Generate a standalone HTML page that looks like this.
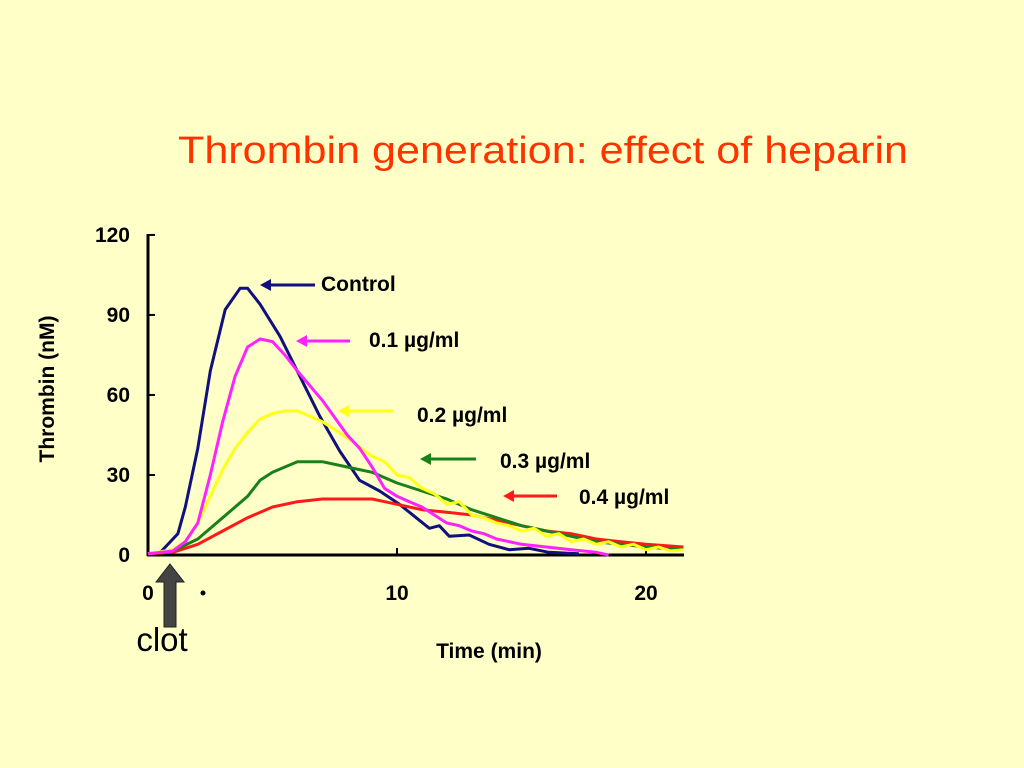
<!DOCTYPE html>
<html><head><meta charset="utf-8"><style>
body{margin:0;background:#ffffc8;}
svg{display:block;font-family:"Liberation Sans",sans-serif;}
</style></head><body>
<svg width="1024" height="768">
<rect width="1024" height="768" fill="#ffffc8"/>
<text x="178" y="163" textLength="730" lengthAdjust="spacingAndGlyphs" font-size="38" fill="#ff3300">Thrombin generation: effect of heparin</text>
<g id="axes"></g>
<g id="series"></g>
<g id="labels"></g>
<text x="54" y="389" transform="rotate(-90 54 389)" text-anchor="middle" font-size="21" font-weight="bold">Thrombin (nM)</text>
<text x="489" y="658" text-anchor="middle" font-size="21" font-weight="bold">Time (min)</text>
<polygon points="170,564 184,582 176,582 176,627 164,627 164,582 156,582" fill="#444" stroke="#222"/>
<text x="162" y="651" text-anchor="middle" font-size="33" fill="#000">clot</text>
<circle cx="203" cy="593" r="2.5" fill="#000"/>
</svg>
<script>
const xTicks=[0,10,20];
const yTicks=[0,30,60,90,120];
const tControl=[0,0.5,0.7,1.2,1.5,2,2.5,3.1,3.7,4,4.5,5.3,6.1,6.9,7.7,8.5,9.3,10.1,10.9,11.3,11.7,12.1,12.9,13.7,14.5,15.3,16.1,17.3];
const vControl=[0.5,1,3,8,18,40,69,92,100,100,94,82,67,52,39,28,24,19,13,10,11,7,7.5,4,2,2.5,1,0.5];
const tP1=[0,1,1.5,2,2.5,3,3.5,4,4.5,5,5.5,6,7,8,8.5,9,9.5,10,10.5,11,11.5,12,12.5,13,13.5,14,15,16,17,18,18.5];
const vP1=[0.5,1.5,5,12,30,50,67,78,81,80,75,69,58,45,40,33,25,22,20,18,15,12,11,9,8,6,4,3,2,1,0];
const tP2=[0,1,1.5,2,2.5,3,3.5,4,4.5,5,5.5,6,6.5,7,8,9,9.5,10,10.5,11,11.5,12,12.5,13,13.5,14,14.5,15,15.5,16,16.5,17,17.5,18,18.5,19,19.5,20,20.5,21,21.5];
const vP2=[0.5,2,5,12,22,32,40,46,51,53,54,54,52,50,44,37,35,30,29,25,23,19,20,15,14,12,11,9,10,7,8,5,6,4,5,3,4,2,3,1.5,2];
const tP3=[0,1,2,3,4,4.5,5,5.5,6,7,8,9,10,11,12,13,14,15,16,17,18,19,20,21.5];
const vP3=[0.5,1.5,6,14,22,28,31,33,35,35,33,31,27,24,21,17,14,11,9,7,5,4,3,2];
const tP4=[0,1,2,3,4,5,6,7,8,9,10,11,12,13,14,15,16,17,18,19,20,21.5];
const vP4=[0.5,1,4,9,14,18,20,21,21,21,19,17,16,15,13,11,9,8,6,5,4,3];
const series=[
 {t:tControl,v:vControl,c:'#101080',n:'control'},
 {t:tP4,v:vP4,c:'#ff1a1a',n:'0-4-ug-ml'},
 {t:tP3,v:vP3,c:'#1a801a',n:'0-3-ug-ml'},
 {t:tP2,v:vP2,c:'#ffff1a',n:'0-2-ug-ml'},
 {t:tP1,v:vP1,c:'#ff22ff',n:'0-1-ug-ml'}];
const NS='http://www.w3.org/2000/svg';
const X=t=>148+t*24.9, Y=v=>555-v*2.667;
function mk(tag,attrs,parent){const e=document.createElementNS(NS,tag);for(const k in attrs)e.setAttribute(k,attrs[k]);parent.appendChild(e);return e;}
const ax=document.getElementById('axes');
let l=mk('line',{x1:148,y1:234,x2:148,y2:556,stroke:'#000','stroke-width':3},ax);


l=mk('line',{x1:147,y1:555,x2:684,y2:555,stroke:'#000','stroke-width':3},ax);


yTicks.forEach(v=>{
 let tk=mk('line',{x1:148,y1:Y(v),x2:155,y2:Y(v),stroke:'#000','stroke-width':2},ax);
 
 
 let tx=mk('text',{x:130,y:Y(v)+7,'text-anchor':'end','font-size':21,'font-weight':'bold'},ax);tx.textContent=v;
 
 
});
xTicks.forEach(v=>{
 let tk=mk('line',{x1:X(v),y1:555,x2:X(v),y2:548,stroke:'#000','stroke-width':2},ax);
 
 
 let tx=mk('text',{x:X(v),y:600,'text-anchor':'middle','font-size':21,'font-weight':'bold'},ax);tx.textContent=v;
 
 
});
const sg=document.getElementById('series');
series.forEach(s=>{
 const d=s.t.map((t,i)=>(i?'L':'M')+X(t).toFixed(1)+','+Y(s.v[i]).toFixed(1)).join('');
 const p=mk('path',{d:d,fill:'none',stroke:s.c,'stroke-width':3,'stroke-linejoin':'round'},sg);
 
 
});
const lab=document.getElementById('labels');
const ann=[[260,285,315,'#101080','Control',321,291],[296,341,350,'#ff22ff','0.1 µg/ml',369,347],[338,411,393,'#ffff1a','0.2 µg/ml',417,422],[420,459,476,'#1a801a','0.3 µg/ml',500,468],[503,496,557,'#ff1a1a','0.4 µg/ml',579,504]];
ann.forEach(a=>{
 const [x1,y,x2,c,t,tx,ty]=a;
 let ln=mk('line',{x1:x1+8,y1:y,x2:x2,y2:y,stroke:c,'stroke-width':3},lab);
 
 
 let hd=mk('polygon',{points:`${x1},${y} ${x1+11},${y-6} ${x1+11},${y+6}`,fill:c},lab);
 
 
 let te=mk('text',{x:tx,y:ty,'font-size':21,'font-weight':'bold'},lab);te.textContent=t;
 
 
});
</script>
</body></html>
